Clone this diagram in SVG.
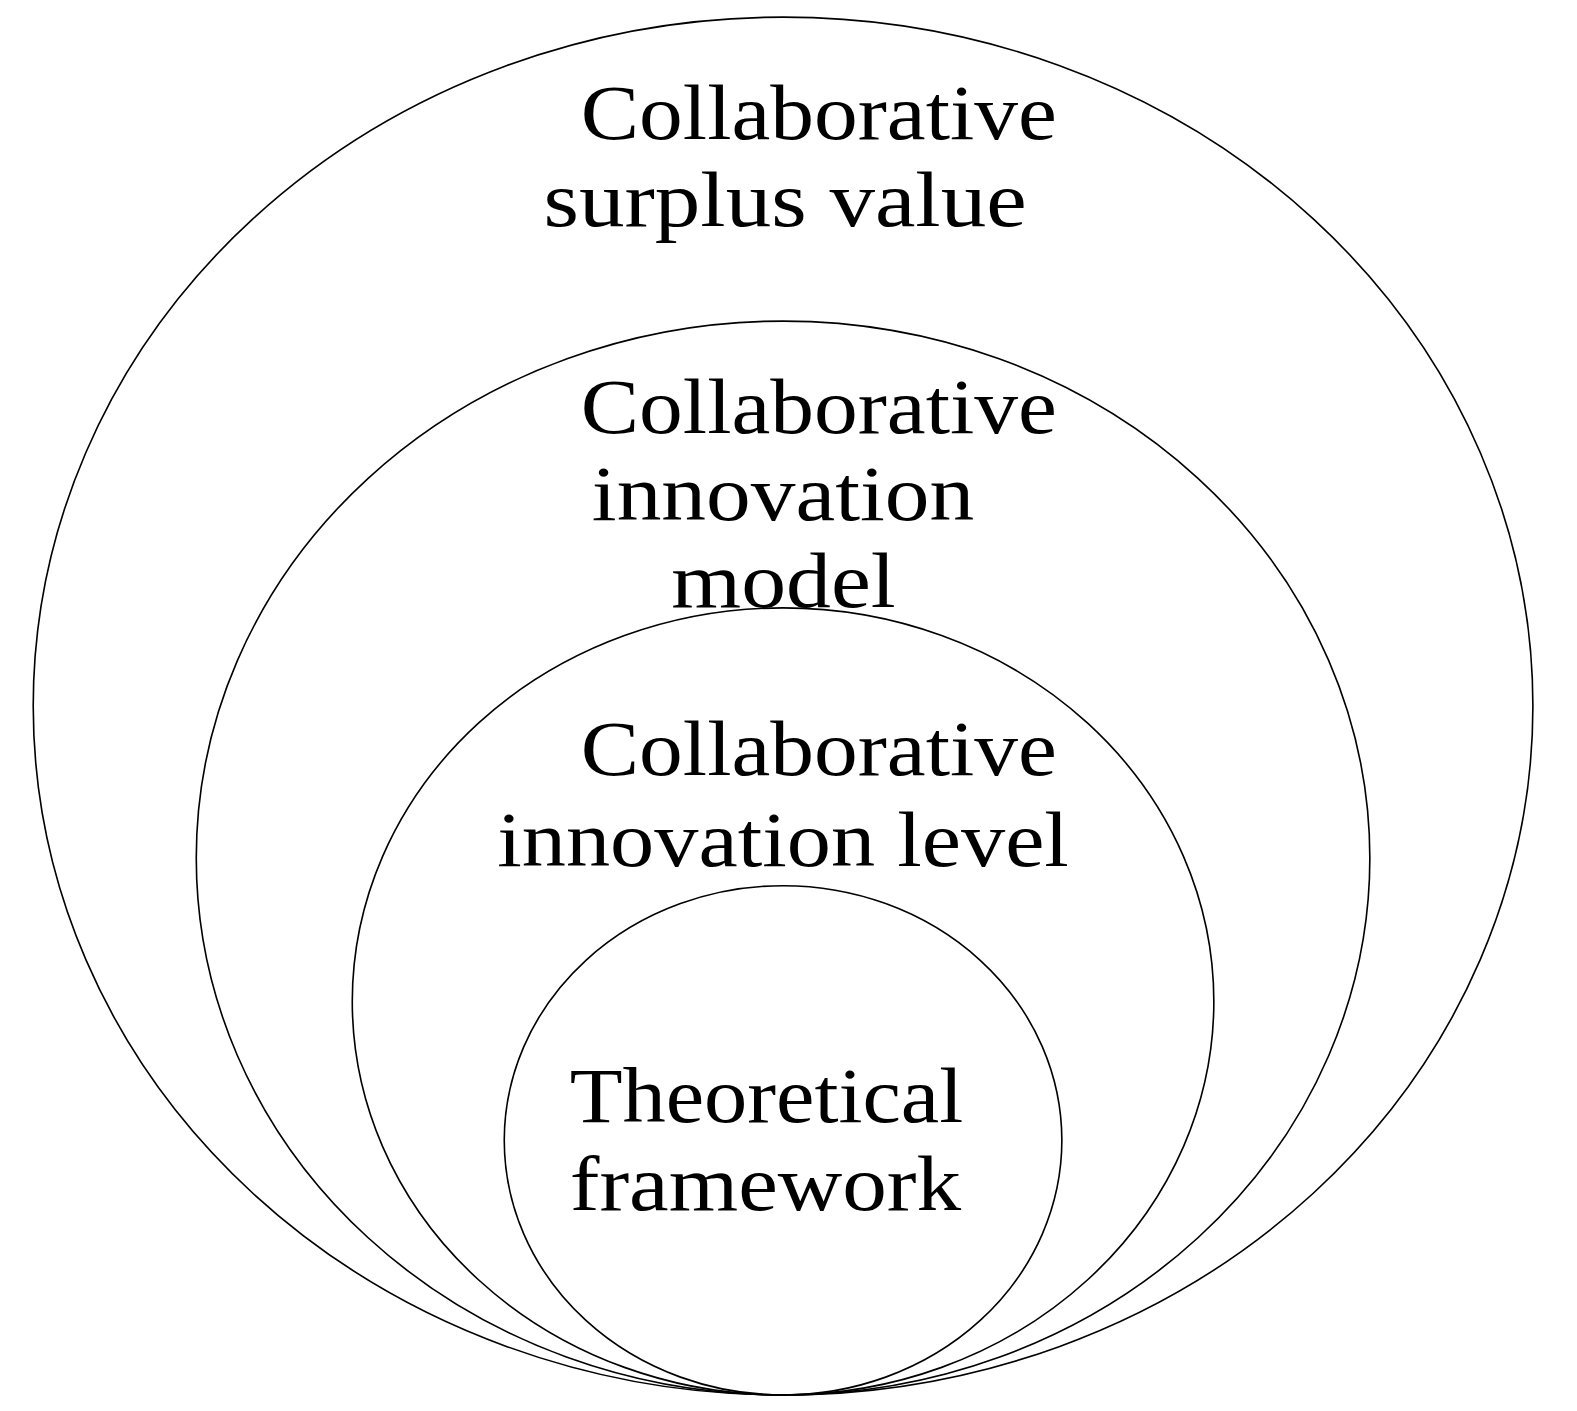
<svg xmlns="http://www.w3.org/2000/svg" width="1577" height="1411" viewBox="0 0 1577 1411">
<style>
.ring{fill:none;stroke:#000;stroke-width:1.6}
.lbl{font-family:"Liberation Serif","Times New Roman",serif;font-size:78px;fill:#000}
</style>
<rect width="1577" height="1411" fill="#fff"/>
<g transform="scale(1.0065)">
<g id="node-surplus">
<ellipse class="ring" cx="778" cy="701.5" rx="745" ry="684.5"/>
<text class="lbl" x="577" y="138" textLength="473" lengthAdjust="spacingAndGlyphs">Collaborative</text>
<text class="lbl" x="540" y="225" textLength="480" lengthAdjust="spacingAndGlyphs">surplus value</text>
</g>
<g id="node-model">
<ellipse class="ring" cx="778" cy="852.5" rx="583" ry="533.5"/>
<text class="lbl" x="577" y="430" textLength="473" lengthAdjust="spacingAndGlyphs">Collaborative</text>
<text class="lbl" x="588" y="517" textLength="380" lengthAdjust="spacingAndGlyphs">innovation</text>
<text class="lbl" x="667" y="603" textLength="223" lengthAdjust="spacingAndGlyphs">model</text>
</g>
<g id="node-level">
<ellipse class="ring" cx="778" cy="995" rx="428" ry="391"/>
<text class="lbl" x="577" y="770" textLength="473" lengthAdjust="spacingAndGlyphs">Collaborative</text>
<text class="lbl" x="494" y="860" textLength="568" lengthAdjust="spacingAndGlyphs">innovation level</text>
</g>
<g id="node-framework">
<ellipse class="ring" cx="778" cy="1133" rx="277" ry="253"/>
<text class="lbl" x="566" y="1115" textLength="391" lengthAdjust="spacingAndGlyphs">Theoretical</text>
<text class="lbl" x="566" y="1202" textLength="389" lengthAdjust="spacingAndGlyphs">framework</text>
</g>
<g id="connectors"></g>
</g>
</svg>
